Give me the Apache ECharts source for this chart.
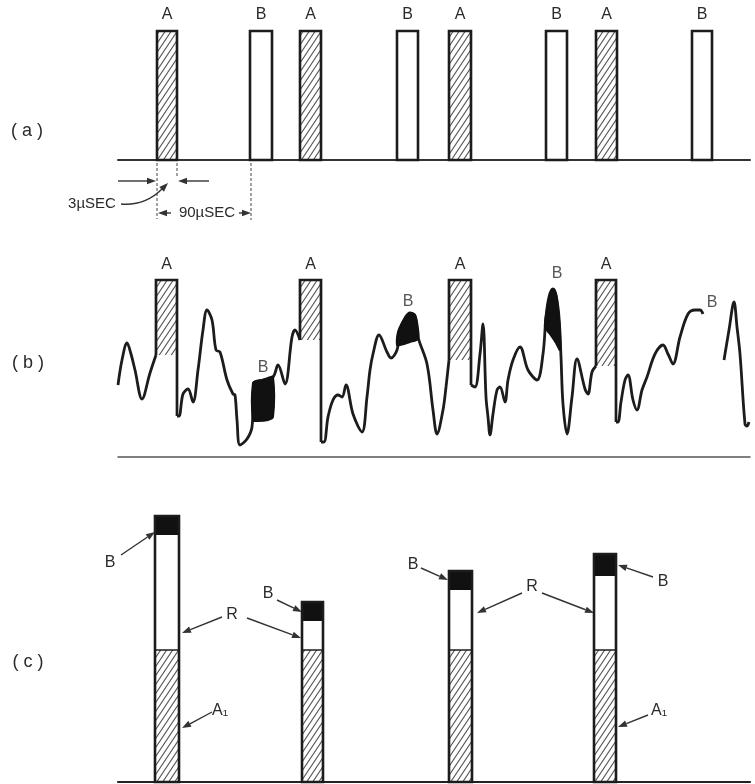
<!DOCTYPE html>
<html><head><meta charset="utf-8">
<script src="https://cdn.jsdelivr.net/npm/echarts@6/dist/echarts.min.js"></script>
<style>html,body{margin:0;padding:0;background:#fff}#c{width:755px;height:784px}</style>
</head><body><div id="c"></div>
<script>
// ---------- DATA ----------
// (a) transmitted pulse trains: A (hatched) and B (open)
const aLabels = ['A','B','A','B','A','B','A','B'];
const aStart  = [157,250,300,397,449,546,596,692];
const aEnd    = [177,272,321,418,471,567,617,712];
const aHeight = [129,129,129,129,129,129,129,129];

// (b) received signal: A pulses riding on noise
const bLabels     = ['A','A','A','A'];
const bStart      = [156,300,449,596];
const bEnd        = [177,321,471,616];
const bTop        = [177,177,177,177];
const bLeftLevel  = [102,117,97,91];
const bRightLevel = [41,15,72,35];
const waveSeg1 = [[118,72],[122,97],[127,114],[131,103],[135,87],[142,58],[150,84],[156,102]];
const waveSeg2 = [[177,41],[179,41],[183,63],[188,68],[193,55],[198,87],[203,127],[207,147],[212,137],[216,107],[220,105],[227,77],[233,63],[235,62],[237,37],[240,12],[247,18],[252,30],[254,74],[263,77],[273,80],[278,92],[285,73],[292,120],[295,127],[300,117]];
const waveSeg3 = [[321,15],[324,15],[328,40],[333,57],[338,62],[342,60],[346,72],[353,43],[362,25],[367,60],[370,87],[373,103],[379,122],[387,105],[391,99],[397,107],[400,127],[405,139],[410,144],[415,141],[418,120],[427,93],[433,47],[437,23],[443,47],[446,70],[449,97]];
const waveSeg4 = [[471,72],[475,70],[480,103],[483,133],[486,60],[488,40],[490,22],[493,43],[497,67],[500,70],[505,55],[508,77],[513,97],[520,110],[528,87],[537,77],[543,103],[546,140],[549,160],[553,168],[556,162],[559,140],[561,100],[563,53],[567,23],[572,60],[577,98],[585,68],[588,63],[592,85],[596,91]];
const waveSeg5 = [[616,35],[618,35],[621,55],[625,77],[628,82],[633,57],[637,47],[642,67],[647,80],[655,103],[663,112],[668,103],[673,93],[680,120],[688,143],[695,147],[700,147],[703,143]];
const waveSeg6 = [[724,97],[729,127],[734,155],[737,130],[740,103],[745,33],[747,31],[749,35]];
const waveSegments = [waveSeg1,waveSeg2,waveSeg3,waveSeg4,waveSeg5,waveSeg6];
// B pulses (black) buried in noise
const blob1 = [[253,37],[253,74],[258,76],[263,77],[268,79],[273,80],[273,40],[268,37],[258,36]];
const blob2 = [[397,112],[398,125],[402,134],[406,140],[410,144],[415,142],[418,128],[418,118],[410,115],[400,112]];
const blob3 = [[545,130],[547,148],[550,163],[553,168],[556,163],[558,148],[560,125],[560,107],[556,114],[550,123]];
const blobs = [blob1,blob2,blob3];
const bNoiseLabels = ['B','B','B','B'];
const bNoiseLabelX = [263,408,557,712];
const bNoiseLabelY = [89,155,183,154];

// (c) integrated output: A1 + R + B
const cStart = [155,302,449,594];
const cEnd   = [179,323,472,616];
const cA1    = [132,132,132,132];
const cR     = [115,29,60,74];
const cB     = [19,19,19,22];

// ---------- STYLE HELPERS ----------
function hatchCanvas(color, w, h, lw){
  const c = document.createElement('canvas'); c.width = w; c.height = h;
  const g = c.getContext('2d'); g.strokeStyle = color; g.lineWidth = lw;
  g.beginPath();
  g.moveTo(0, h); g.lineTo(w, 0);
  g.moveTo(-w, h); g.lineTo(w, -h);
  g.moveTo(0, 2*h); g.lineTo(2*w, 0);
  g.stroke();
  return c;
}
const hatch = {image: hatchCanvas('#555', 6, 9, 1.1), repeat: 'repeat'};
const INK = '#1c1c1c';
const FONT = '"Liberation Sans", "DejaVu Sans", sans-serif';

function arrow(x1,y1,x2,y2){
  const ang = Math.atan2(y2-y1, x2-x1), L = 9, W = 3.3;
  const bx = x2 - L*Math.cos(ang), by = y2 - L*Math.sin(ang);
  const px = -Math.sin(ang)*W, py = Math.cos(ang)*W;
  return [
    {type:'line', shape:{x1:x1,y1:y1,x2:bx,y2:by}, style:{stroke:'#333', lineWidth:1.4}},
    {type:'polygon', shape:{points:[[x2,y2],[bx+px,by+py],[bx-px,by-py]]}, style:{fill:'#333'}}
  ];
}
function head(x2,y2,ang){
  const L = 9, W = 3.3;
  const bx = x2 - L*Math.cos(ang), by = y2 - L*Math.sin(ang);
  const px = -Math.sin(ang)*W, py = Math.cos(ang)*W;
  return {type:'polygon', shape:{points:[[x2,y2],[bx+px,by+py],[bx-px,by-py]]}, style:{fill:'#333'}};
}
function txt(s,x,y,size){
  return {type:'text', style:{text:s, x:x, y:y, align:'center', verticalAlign:'middle', fill:'#2a2a2a', font: (size||16)+'px '+FONT}};
}
function dashV(x,y1,y2){
  return {type:'line', shape:{x1:x,y1:y1,x2:x,y2:y2}, style:{stroke:'#444', lineWidth:1, lineDash:[3,2]}};
}

const chart = echarts.init(document.getElementById('c'), null, {renderer:'canvas'});

const axisX = (gi, w, col) => ({type:'value', gridIndex:gi, min:118, max:750,
  axisLine:{show:true, onZero:true, lineStyle:{color:col, width:w}},
  axisTick:{show:false}, axisLabel:{show:false}, splitLine:{show:false}});
const axisY = (gi, max) => ({type:'value', gridIndex:gi, min:0, max:max, show:false});

const series = [];
// (a)
series.push({
  type:'custom', xAxisIndex:0, yAxisIndex:0,
  data: aStart.map((s,i)=>[s, aEnd[i], aHeight[i]]),
  renderItem: (params, api) => {
    const i = params.dataIndex;
    const p0 = api.coord([api.value(0), 0]);
    const p1 = api.coord([api.value(1), api.value(2)]);
    return {type:'group', children:[
      {type:'rect', shape:{x:p0[0], y:p1[1], width:p1[0]-p0[0], height:p0[1]-p1[1]},
        style:{fill: aLabels[i]==='A' ? hatch : '#fff', stroke:INK, lineWidth:2.6}},
      {type:'text', style:{text:aLabels[i], x:(p0[0]+p1[0])/2, y:p1[1]-8, align:'center', verticalAlign:'bottom', fill:'#2a2a2a', font:'16px '+FONT}}
    ]};
  }
});
// (b) waveform
waveSegments.forEach(seg => series.push({
  type:'line', xAxisIndex:1, yAxisIndex:1, data:seg, smooth:0.35, symbol:'none',
  lineStyle:{color:INK, width:2.8}, z:3
}));
// (b) A pulses
series.push({
  type:'custom', xAxisIndex:1, yAxisIndex:1, z:4,
  data: bStart.map((s,i)=>[s, bEnd[i], bTop[i], bLeftLevel[i], bRightLevel[i]]),
  renderItem: (params, api) => {
    const i = params.dataIndex;
    const xl = api.value(0), xr = api.value(1), top = api.value(2), lv = api.value(3), rv = api.value(4);
    const tl = api.coord([xl, top]), tr = api.coord([xr, top]);
    const bl = api.coord([xl, lv]), br = api.coord([xr, rv]);
    return {type:'group', children:[
      {type:'rect', shape:{x:tl[0], y:tl[1], width:tr[0]-tl[0], height:bl[1]-tl[1]}, style:{fill:hatch}},
      {type:'polyline', shape:{points:[bl, tl, tr, br]}, style:{stroke:INK, lineWidth:2.7, fill:null}},
      {type:'text', style:{text:bLabels[i], x:(tl[0]+tr[0])/2, y:tl[1]-7, align:'center', verticalAlign:'bottom', fill:'#2a2a2a', font:'16px '+FONT}}
    ]};
  }
});
// (b) B blobs
series.push({
  type:'custom', xAxisIndex:1, yAxisIndex:1, z:5,
  data: blobs.map((b,i)=>[b[0][0], b[0][1], i]),
  renderItem: (params, api) => {
    const pts = blobs[params.dataIndex].map(p => api.coord(p));
    return {type:'polygon', shape:{points:pts, smooth:0.3}, style:{fill:'#111', stroke:'#111', lineWidth:2}};
  }
});
// (b) B labels
series.push({
  type:'scatter', xAxisIndex:1, yAxisIndex:1, symbolSize:0, z:6,
  data: bNoiseLabelX.map((x,i)=>[x, bNoiseLabelY[i]]),
  label:{show:true, position:'inside', formatter: p => bNoiseLabels[p.dataIndex], color:'#2a2a2a', fontSize:16, fontFamily:'Liberation Sans'}
});
// (c) bars
series.push({
  type:'custom', xAxisIndex:2, yAxisIndex:2,
  data: cStart.map((s,i)=>[s, cEnd[i], cA1[i], cR[i], cB[i]]),
  renderItem: (params, api) => {
    const xl = api.value(0), xr = api.value(1), a = api.value(2), r = api.value(3), b = api.value(4);
    const p0 = api.coord([xl, 0]), pA = api.coord([xr, a]), pR = api.coord([xr, a+r]), pB = api.coord([xr, a+r+b]);
    const w = pA[0]-p0[0];
    return {type:'group', children:[
      {type:'rect', shape:{x:p0[0], y:pA[1], width:w, height:p0[1]-pA[1]}, style:{fill:hatch}},
      {type:'rect', shape:{x:p0[0], y:pR[1], width:w, height:pA[1]-pR[1]}, style:{fill:'#fff'}},
      {type:'rect', shape:{x:p0[0], y:pB[1], width:w, height:pR[1]-pB[1]}, style:{fill:'#111'}},
      {type:'line', shape:{x1:p0[0], y1:pA[1], x2:pA[0], y2:pA[1]}, style:{stroke:INK, lineWidth:1.5}},
      {type:'rect', shape:{x:p0[0], y:pB[1], width:w, height:p0[1]-pB[1]}, style:{fill:null, stroke:INK, lineWidth:2.6}}
    ]};
  }
});

// ---------- ANNOTATIONS ----------
const g = [];
g.push(txt('( a )',27,131,18), txt('( b )',28,363,18), txt('( c )',28,662,18));
// (a) dimension marks
g.push(dashV(157,163,219), dashV(177,163,176), dashV(251,163,220));
g.push(...arrow(118,181,156,181), ...arrow(209,181,178,181));
g.push(txt('3µSEC',92,204,15));
g.push({type:'bezierCurve', shape:{x1:121,y1:204,x2:162,y2:189,cpx1:145,cpy1:206}, style:{stroke:'#333', lineWidth:1.4, fill:null}});
g.push(head(168,183,Math.atan2(-6,6)));
g.push(...arrow(171,213,158,213), txt('90µSEC',207,213,15), ...arrow(239,213,251,213));
// (c) callouts
g.push(txt('B',110,563), ...arrow(121,555,155,532));
g.push(txt('B',268,594), ...arrow(277,600,302,612));
g.push(txt('R',232,615), ...arrow(222,617,182,633), ...arrow(247,618,301,638));
g.push(txt('A₁',220,711), ...arrow(212,712,182,728));
g.push(txt('B',413,565), ...arrow(421,568,448,580));
g.push(txt('R',532,587), ...arrow(522,593,477,613), ...arrow(542,593,594,613));
g.push(txt('B',663,582), ...arrow(653,577,618,565));
g.push(txt('A₁',659,711), ...arrow(648,715,618,727));

chart.setOption({
  animation:false,
  backgroundColor:'#fff',
  grid:[
    {left:118, right:5, top:10, height:150},
    {left:118, right:5, top:257, height:200},
    {left:118, right:5, top:482, height:300}
  ],
  xAxis:[axisX(0,2,'#333'), axisX(1,1.5,'#555'), axisX(2,2.2,'#222')],
  yAxis:[axisY(0,150), axisY(1,200), axisY(2,300)],
  series: series,
  graphic: g
});
</script></body></html>
